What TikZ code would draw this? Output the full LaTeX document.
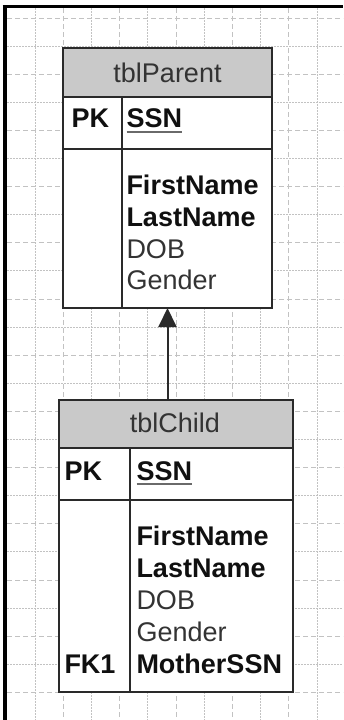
\documentclass[tikz,border=0pt]{standalone}
\usepackage{fontspec}
\setmainfont{Liberation Sans}
\usetikzlibrary{arrows.meta}
\definecolor{gridc}{HTML}{C2C2C2}
\definecolor{hdr}{HTML}{C9C9C9}
\definecolor{edge}{HTML}{2A2A2A}
\definecolor{txtreg}{HTML}{333333}
\definecolor{txtbold}{HTML}{101010}
\definecolor{ulc}{HTML}{6A6A6A}
\begin{document}
\begin{tikzpicture}[x=1pt,y=-1pt,
  box/.style={draw=edge,line width=2pt,fill=white,inner sep=0pt,outer sep=0pt,rectangle},
  headbox/.style={box,fill=hdr},
  fld/.style={inner sep=0pt,outer sep=0pt,anchor=base west},
  bfld/.style={fld,font=\fontsize{27}{32}\selectfont\bfseries,text=txtbold},
  rfld/.style={fld,font=\fontsize{27}{32}\selectfont,text=txtreg},
  title/.style={inner sep=0pt,outer sep=0pt,anchor=base,font=\fontsize{27}{32}\selectfont,text=txtreg},
  rule/.style={draw=edge,line width=2pt},
  uline/.style={draw=ulc,line width=2pt},
  gdash/.style={draw=gridc,line width=1pt,dash pattern=on 5pt off 3pt},
  gdot/.style={draw=gridc,line width=1pt,dash pattern=on 1.5pt off 1.5pt},
  link/.style={draw=edge,line width=2pt,-{Triangle[width=18pt,length=19pt]}}]
\useasboundingbox (0,0) rectangle (343,720);
\fill[white] (0,0) rectangle (343,720);
% grid
\foreach \i in {0,2,...,24} \path[gdash] (7,{18+28.1*\i}) -- (343,{18+28.1*\i});
\foreach \i in {1,3,...,23} \path[gdot] (7,{18+28.1*\i}) -- (343,{18+28.1*\i});
\foreach \k in {0,2,...,10} \path[gdot] ({35+28.2*\k},8) -- ({35+28.2*\k},720);
\foreach \k in {1,3,...,9} \path[gdash] ({35+28.2*\k},8) -- ({35+28.2*\k},720);
% frame
\draw[black,line width=4.6pt] (5,5) -- (5,720);
\draw[black,line width=3pt] (2.7,6.5) -- (343,6.5);
% parent table
\node[box,minimum width=209pt,minimum height=260pt] (parent) at (167.5,178) {};
\node[headbox,minimum width=209pt,minimum height=49pt,anchor=north] (phead) at (parent.north) {};
\node[title] (ptitle) at (167.5,82) {tblParent};
\path[rule] (parent.west |- 0,149) -- (parent.east |- 0,149);
\path[rule] (122,0 |- phead.south) -- (122,0 |- parent.south);
\node[bfld] (ppk) at (71.5,127) {PK};
\node[bfld] (pssn) at (126.5,127) {SSN};
\path[uline] ([yshift=-4.5pt]pssn.base west) -- ([yshift=-4.5pt]pssn.base east);
\node[bfld] (pfirst) at (126.5,194) {FirstName};
\node[bfld] (plast) at (126.5,226) {LastName};
\node[rfld] (pdob) at (126.5,258) {DOB};
\node[rfld] (pgender) at (126.5,289.5) {Gender};
% child table
\node[box,minimum width=234pt,minimum height=292pt] (child) at (176,546) {};
\node[headbox,minimum width=234pt,minimum height=48pt,anchor=north] (chead) at (child.north) {};
\node[title] (ctitle) at (175,432) {tblChild};
\path[rule] (child.west |- 0,500) -- (child.east |- 0,500);
\path[rule] (129.5,0 |- chead.south) -- (129.5,0 |- child.south);
\node[bfld] (cpk) at (64.5,480) {PK};
\node[bfld] (cssn) at (136.5,480) {SSN};
\path[uline] ([yshift=-4pt]cssn.base west) -- ([yshift=-4pt]cssn.base east);
\node[bfld] (cfirst) at (136.5,545) {FirstName};
\node[bfld] (clast) at (136.5,577) {LastName};
\node[rfld] (cdob) at (136.5,609) {DOB};
\node[rfld] (cgender) at (136.5,641) {Gender};
\node[bfld] (cfk) at (64.5,673) {FK1};
\node[bfld] (cmother) at (136.5,673) {MotherSSN};
% relationship
\path[link] (parent.south |- child.north) -- (parent.south);
\end{tikzpicture}
\end{document}
